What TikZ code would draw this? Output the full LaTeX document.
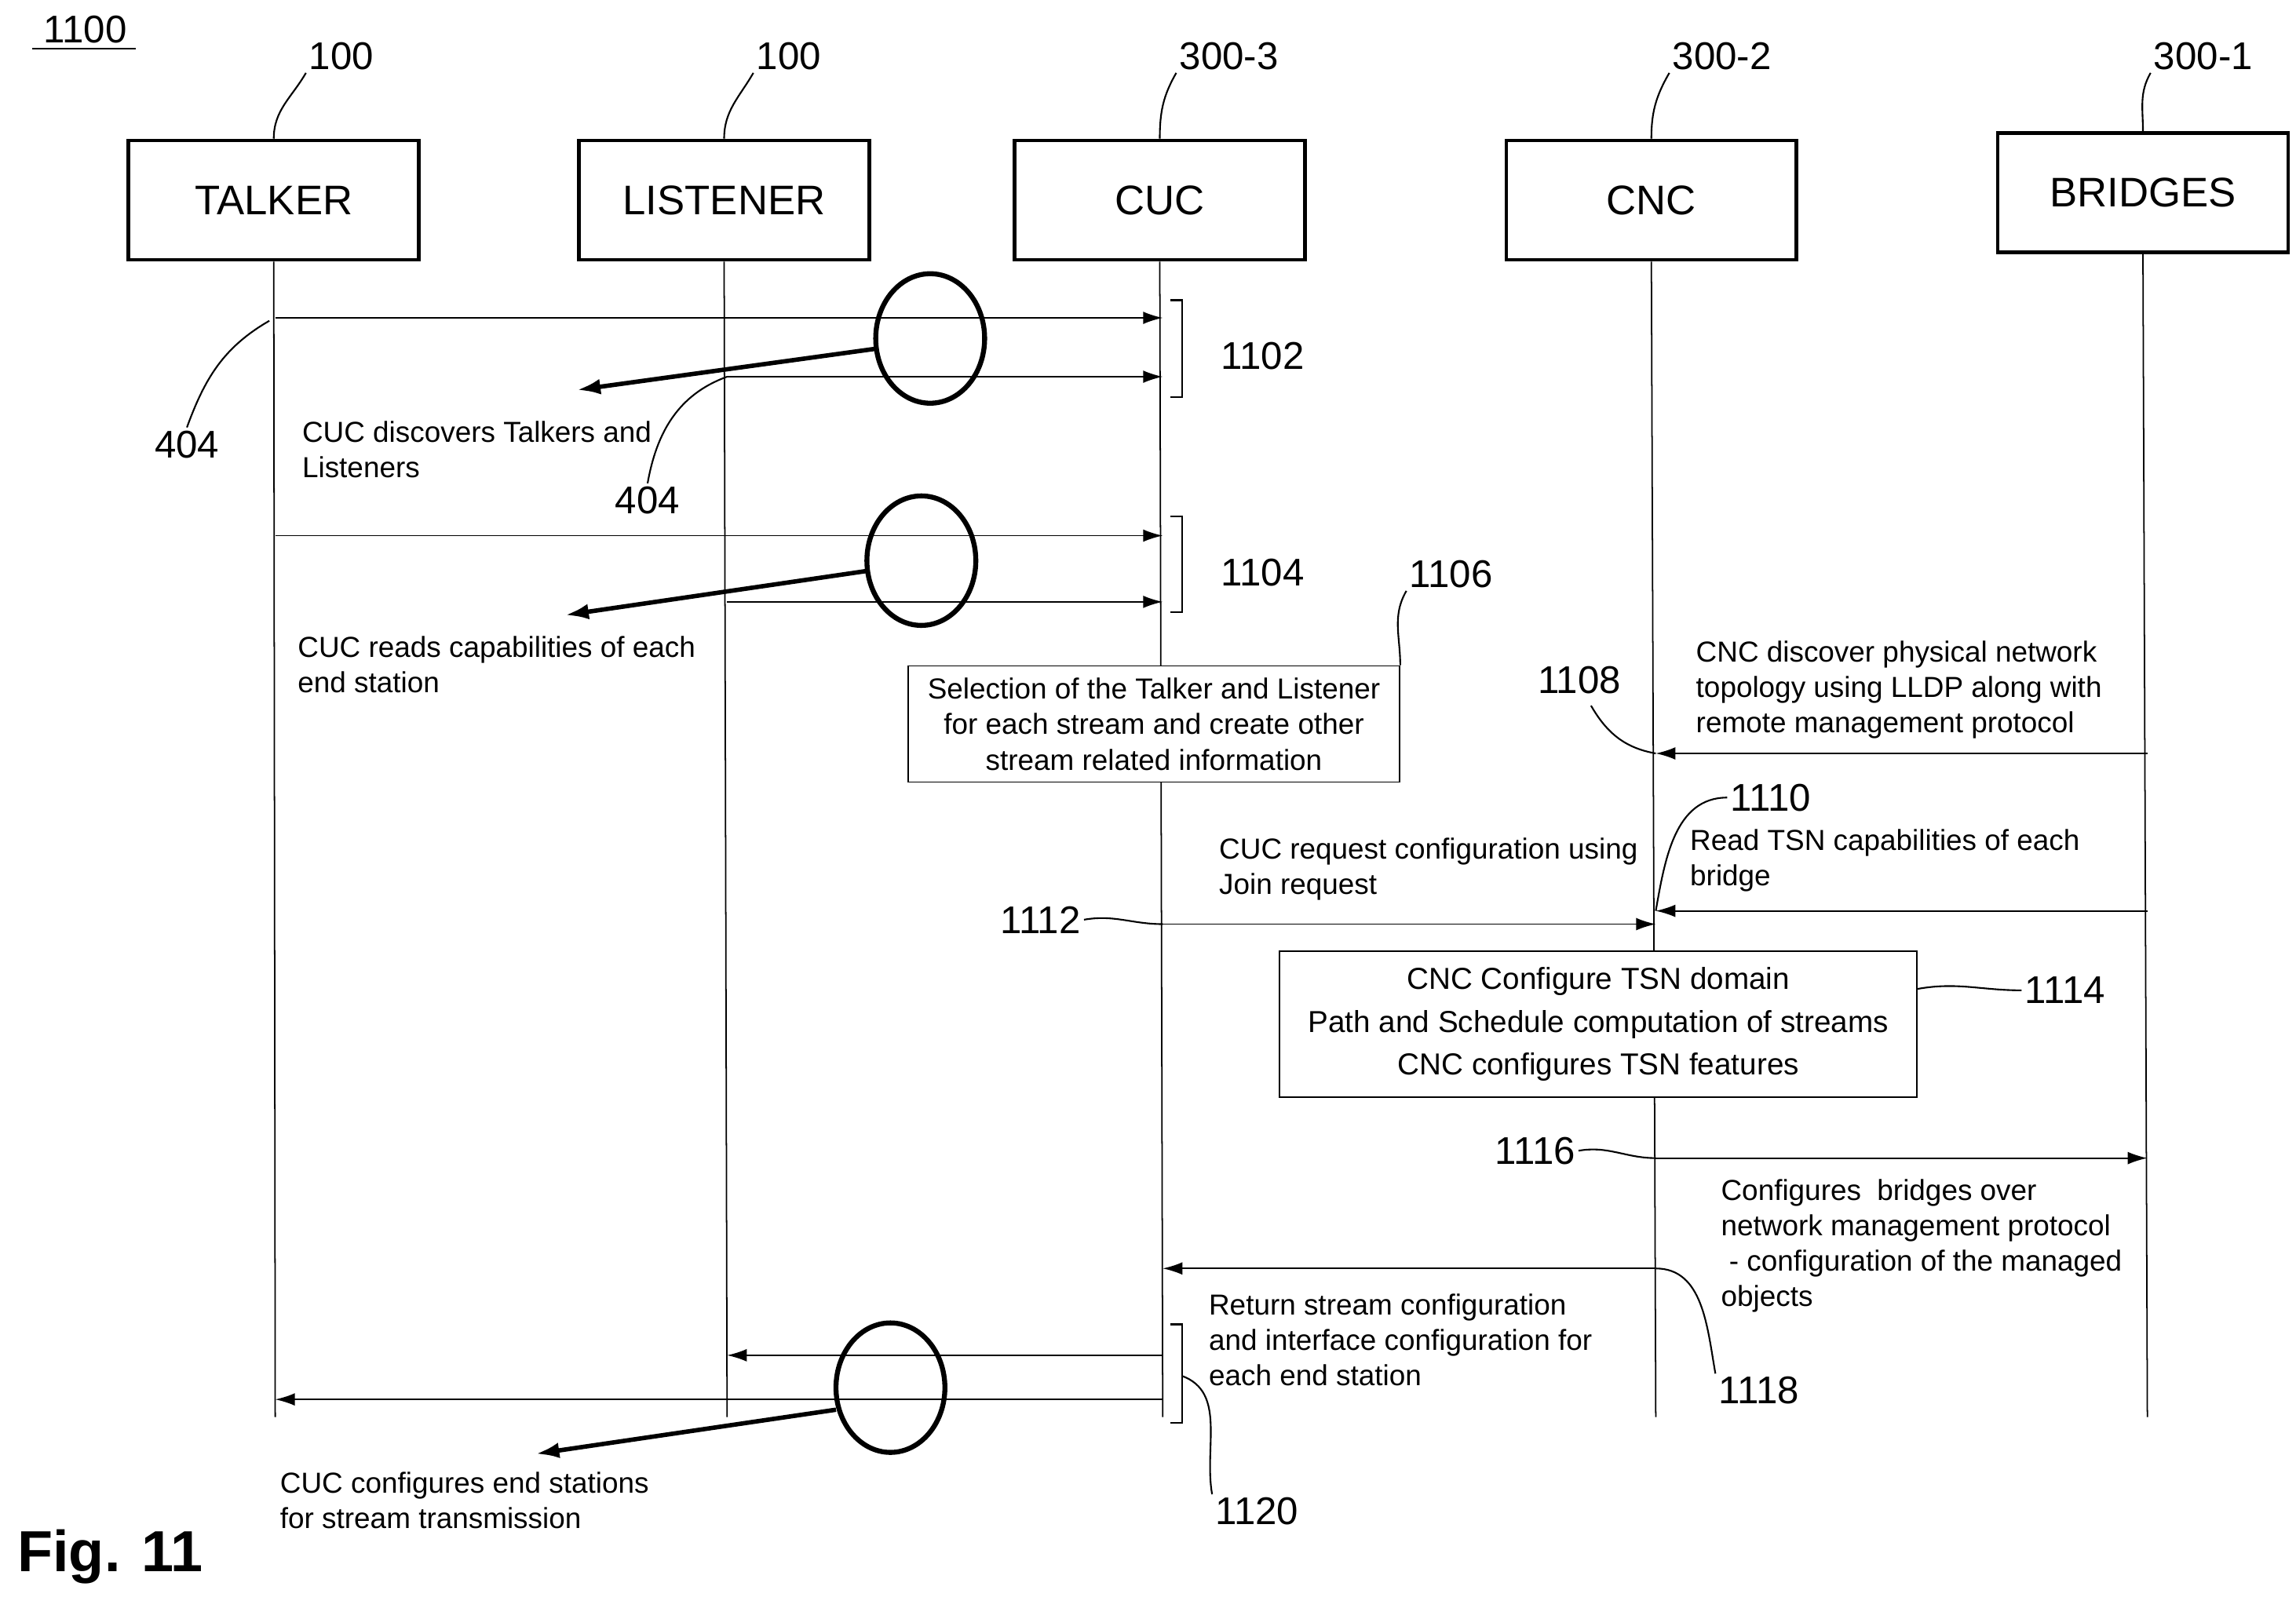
\documentclass[tikz,border=0pt]{standalone}
\usepackage{fontspec}
\setmainfont{Liberation Sans}
\usetikzlibrary{arrows.meta,positioning}
\tikzset
{
    entity/.style = {draw=black, line width=1.3pt, minimum width=3.7cm, minimum height=1.52cm, font=\fontsize{15}{18}\selectfont},
    lifeline/.style = {draw=black, line width=0.5pt},
    msg/.style = {-{Latex[length=2.5mm,width=1.6mm]}, line width=0.5pt},
    marker/.style = {-{Latex[length=3mm,width=2mm]}, line width=1.6pt},
    ring/.style = {draw=black, line width=1.8pt},
    note/.style = {align=left, anchor=north west, inner sep=0pt, font=\fontsize{10.5}{12.8}\selectfont},
    ref/.style = {font=\fontsize{14}{16}\selectfont, inner sep=1pt},
    leader/.style = {line width=0.6pt},
    stepbox/.style = {draw=black, fill=white, line width=0.5pt, align=center, font=\fontsize{10.5}{13}\selectfont}
}
\begin{document}
\begin{tikzpicture}[x=0.01875cm,y=-0.01875cm]
    \useasboundingbox (0,0) rectangle (1560,1087.5);
    % title and figure label
    \node [ref] (fig) at (58,20) {1100};
    \draw [leader] (22,33) -- (92,33);
    \node [font=\fontsize{21}{24}\selectfont\bfseries] (figlabel) at (75,1058) {Fig. 11};
    % entities
    \node [entity] (talker) at (186,136) {TALKER};
    \node [entity] (listener) at (492,136) {LISTENER};
    \node [entity] (cuc) at (788,136) {CUC};
    \node [entity] (cnc) at (1122,136) {CNC};
    \node [entity] (bridges) at (1456,131) {BRIDGES};
    \node [ref] (r1) at (232,38) {100};
    \node [ref] (r2) at (536,38) {100};
    \node [ref] (r3) at (835,38) {300-3};
    \node [ref] (r4) at (1170,38) {300-2};
    \node [ref] (r5) at (1497,38) {300-1};
    \draw [leader] (r1.south west) to[out=-120,in=90] (talker.north);
    \draw [leader] (r2.south west) to[out=-120,in=90] (listener.north);
    \draw [leader] (r3.south west) to[out=-120,in=90] (cuc.north);
    \draw [leader] (r4.south west) to[out=-120,in=90] (cnc.north);
    \draw [leader] (r5.south west) to[out=-120,in=90] (bridges.north);
    % lifelines
    \coordinate (tEnd) at (187,963);
    \coordinate (lEnd) at (494,963);
    \coordinate (cEnd) at (790,963);
    \coordinate (nEnd) at (1125,963);
    \coordinate (bEnd) at (1459,963);
    \draw [lifeline] (talker.south) -- (tEnd);
    \draw [lifeline] (listener.south) -- (lEnd);
    \draw [lifeline] (cuc.south) -- (cEnd);
    \draw [lifeline] (cnc.south) -- (nEnd);
    \draw [lifeline] (bridges.south) -- (bEnd);
    % discovery
    \coordinate (t1) at (187,216); \coordinate (c1) at (790,216);
    \coordinate (l2) at (494,256); \coordinate (c2) at (790,256);
    \draw [msg] (t1) -- (c1);
    \draw [msg] (l2) -- (c2);
    \draw [ring] (632,230) ellipse [x radius=37, y radius=44];
    \coordinate (m1s) at (595,237); \coordinate (m1e) at (392,265);
    \draw [marker] (m1s) -- (m1e);
    \draw [leader] (795,204) -- (803,204) -- (803,270) -- (795,270);
    \node [ref] (s1102) at (858,242) {1102};
    \node [ref] (a404) at (127,302) {404};
    \draw [leader] (t1) ++(-4,2) to[out=-150,in=70] (a404.north);
    \node [ref] (b404) at (440,340) {404};
    \draw [leader] (l2) to[out=-160,in=80] (b404.north);
    \node [note] (n1) at (205,286) {CUC discovers Talkers and\\Listeners};
    % capabilities
    \coordinate (t3) at (187,364); \coordinate (c3) at (790,364);
    \coordinate (l4) at (494,409); \coordinate (c4) at (790,409);
    \draw [msg] (t3) -- (c3);
    \draw [msg] (l4) -- (c4);
    \draw [ring] (626,381) ellipse [x radius=37, y radius=44];
    \coordinate (m2s) at (589,388); \coordinate (m2e) at (384,418);
    \draw [marker] (m2s) -- (m2e);
    \draw [leader] (795,351) -- (803,351) -- (803,416) -- (795,416);
    \node [ref] (s1104) at (858,389) {1104};
    \node [note] (n2) at (202,432) {CUC reads capabilities of each\\end station};
    % selection
    \node [stepbox, minimum width=6.26cm, minimum height=1.48cm] (sel) at (784,492) {Selection of the Talker and Listener\\for each stream and create other\\stream related information};
    \node [ref] (s1106) at (986,390) {1106};
    \draw [leader] (s1106.south west) to[out=-120,in=90] (sel.north east);
    % topology
    \node [note] (n3) at (1152,435) {CNC discover physical network\\topology using LLDP along with\\remote management protocol};
    \coordinate (b5) at (1459,512); \coordinate (n5) at (1125,512);
    \draw [msg] (b5) -- (n5);
    \node [ref] (s1108) at (1073,462) {1108};
    \draw [leader] (s1108.south) ++(8,6) to[out=-60,in=170] (n5);
    \node [note] (n4) at (1148,563) {Read TSN capabilities of each\\bridge};
    \coordinate (b6) at (1459,619); \coordinate (n6) at (1125,619);
    \draw [msg] (b6) -- (n6);
    \node [ref] (s1110) at (1203,542) {1110};
    \draw [leader] (s1110.west) to[out=180,in=80] (n6);
    % join request
    \node [note] (n5t) at (828,569) {CUC request configuration using\\Join request};
    \coordinate (c7) at (790,628); \coordinate (n7) at (1125,628);
    \draw [msg] (c7) -- (n7);
    \node [ref] (s1112) at (707,625) {1112};
    \draw [leader] (s1112.east) to[out=10,in=180] (c7);
    % cnc computation
    \node [stepbox, minimum width=8.12cm, minimum height=1.86cm, font=\fontsize{11}{15.5}\selectfont] (comp) at (1086,696) {CNC Configure TSN domain\\Path and Schedule computation of streams\\CNC configures TSN features};
    \node [ref] (s1114) at (1403,673) {1114};
    \draw [leader] (comp.east) ++(0,-24) to[out=10,in=180] (s1114.west);
    % configure bridges
    \coordinate (n8) at (1125,787); \coordinate (b8) at (1459,787);
    \draw [msg] (n8) -- (b8);
    \node [ref] (s1116) at (1043,782) {1116};
    \draw [leader] (s1116.east) to[out=10,in=180] (n8);
    \node [note] (n6t) at (1169,801) {Configures\ \ bridges over\\network management protocol\\\ - configuration of the managed\\objects};
    % return configuration
    \coordinate (n9) at (1125,862); \coordinate (c9) at (790,862);
    \draw [msg] (n9) -- (c9);
    \node [ref] (s1118) at (1195,945) {1118};
    \draw [leader] (n9) to[out=0,in=100] (s1118.north west);
    \node [note] (n7t) at (821,879) {Return stream configuration\\and interface configuration for\\each end station};
    \coordinate (c10) at (790,921); \coordinate (l10) at (494,921);
    \coordinate (c11) at (790,951); \coordinate (t11) at (187,951);
    \draw [msg] (c10) -- (l10);
    \draw [msg] (c11) -- (t11);
    \draw [ring] (605,943) ellipse [x radius=37, y radius=44];
    \coordinate (m3s) at (568,958); \coordinate (m3e) at (364,988);
    \draw [marker] (m3s) -- (m3e);
    \draw [leader] (795,900) -- (803,900) -- (803,967) -- (795,967);
    \node [ref] (s1120) at (854,1027) {1120};
    \draw [leader] (803,935) to[out=-20,in=100] (s1120.north west);
    \node [note] (n8t) at (190,1000) {CUC configures end stations\\for stream transmission};
\end{tikzpicture}
\end{document}
